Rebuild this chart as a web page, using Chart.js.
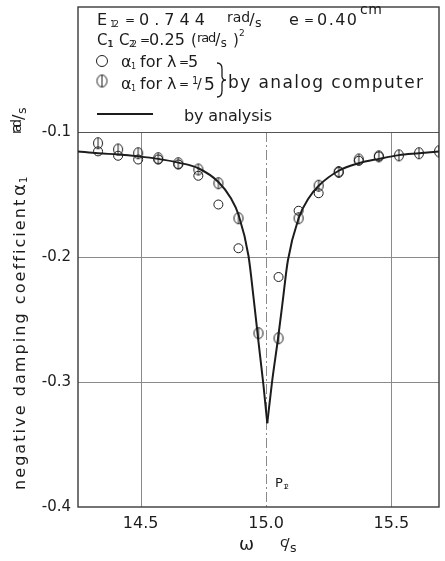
<!DOCTYPE html>
<html>
<head>
<meta charset="utf-8">
<script src="https://cdn.jsdelivr.net/npm/chart.js@4.4.0/dist/chart.umd.min.js"></script>
<style>
  html, body { margin: 0; padding: 0; background: #fff; }
  canvas { display: block; }
</style>
</head>
<body>
<canvas id="damping" width="445" height="561"></canvas>
<script>
const xTicks = [14.5, 15.0, 15.5];
const yTicks = [-0.4, -0.3, -0.2, -0.1];

// analytic solution, split at the cusp (P12) so each side stays monotone
const leftOmega = [14.25, 14.33, 14.41, 14.49, 14.57, 14.65, 14.73, 14.81, 14.86, 14.89, 14.93, 14.95, 14.97, 14.99, 15.005];
const leftAlpha = [-0.1155, -0.117, -0.118, -0.1195, -0.1215, -0.1245, -0.129, -0.140, -0.153, -0.166, -0.199, -0.232, -0.268, -0.303, -0.333];
const rightOmega = [15.005, 15.024, 15.048, 15.065, 15.087, 15.13, 15.17, 15.21, 15.29, 15.37, 15.45, 15.53, 15.61, 15.69];
const rightAlpha = [-0.333, -0.300, -0.265, -0.238, -0.203, -0.169, -0.153, -0.143, -0.131, -0.125, -0.1215, -0.1185, -0.117, -0.1155];

// analog computer, lambda = 5
const omegaLam5 = [14.33, 14.41, 14.49, 14.57, 14.65, 14.73, 14.81, 14.89, 15.05, 15.13, 15.21, 15.29, 15.37, 15.45];
const alphaLam5 = [-0.1155, -0.119, -0.122, -0.122, -0.126, -0.135, -0.158, -0.193, -0.216, -0.163, -0.149, -0.132, -0.123, -0.1195];

// analog computer, lambda = 1/5
const omegaLam15 = [14.33, 14.41, 14.49, 14.57, 14.65, 14.73, 14.81, 14.89, 14.97, 15.05, 15.13, 15.21, 15.29, 15.37, 15.45, 15.53, 15.61, 15.69];
const alphaLam15 = [-0.109, -0.114, -0.117, -0.121, -0.125, -0.130, -0.141, -0.169, -0.261, -0.265, -0.169, -0.143, -0.132, -0.122, -0.1195, -0.1187, -0.117, -0.1155];

const INK = '#1c1c1c';
const GRID = '#8a8a8a';
const FAMILY = '"DejaVu Sans", sans-serif';

const pts = (xs, ys) => xs.map((x, i) => ({ x, y: ys[i] }));

// circle with a vertical stroke through it
function barCircle(rx, ry) {
    const c = document.createElement('canvas');
    c.width = Math.ceil(rx * 2 + 3);
    c.height = Math.ceil(ry * 2 + 3);
    const g = c.getContext('2d');
    const cx = c.width / 2, cy = c.height / 2;
    g.strokeStyle = INK;
    g.lineWidth = 1;
    g.beginPath();
    g.ellipse(cx, cy, rx, ry, 0, 0, Math.PI * 2);
    g.stroke();
    g.beginPath();
    g.moveTo(cx, cy - ry);
    g.lineTo(cx, cy + ry);
    g.stroke();
    return c;
}

// text stretched to a given width with letter spacing
function text(ctx, s, x, y, size, width) {
    ctx.font = size + 'px ' + FAMILY;
    ctx.letterSpacing = '0px';
    if (width) {
        const w = ctx.measureText(s).width;
        ctx.letterSpacing = ((width - w) / Math.max(1, s.length - 1)) + 'px';
    }
    ctx.fillText(s, x, y);
    ctx.letterSpacing = '0px';
}

// "num/den" unit written as a slanted fraction
function perUnit(ctx, num, den, x, y, size, width) {
    ctx.font = size + 'px ' + FAMILY;
    const nw = ctx.measureText(num).width;
    text(ctx, num, x, y - size * 0.25, size, width ? width * 0.58 : 0);
    const nx = x + (width ? width * 0.58 : nw);
    text(ctx, '/', nx - 1, y, size + 2);
    text(ctx, den, nx + size * 0.35, y + size * 0.15, size * 0.9);
}

const paperPlugin = {
    id: 'paper',
    beforeDatasetsDraw(chart) {
        const { ctx, chartArea: a, scales: { x, y } } = chart;
        const yTop = y.getPixelForValue(-0.1);
        ctx.save();
        ctx.lineWidth = 1;
        ctx.strokeStyle = GRID;
        xTicks.forEach(v => {
            const px = Math.round(x.getPixelForValue(v)) + 0.5;
            ctx.setLineDash(v === 15.0 ? [10, 3, 2, 3] : []);
            ctx.beginPath();
            ctx.moveTo(px, yTop);
            ctx.lineTo(px, a.bottom);
            ctx.stroke();
        });
        ctx.setLineDash([]);
        [-0.3, -0.2].forEach(v => {
            const py = Math.round(y.getPixelForValue(v)) + 0.5;
            ctx.beginPath();
            ctx.moveTo(a.left, py);
            ctx.lineTo(a.right, py);
            ctx.stroke();
        });
        // bottom edge of the legend panel
        ctx.strokeStyle = '#555';
        const py = Math.round(yTop) + 0.5;
        ctx.beginPath();
        ctx.moveTo(a.left, py);
        ctx.lineTo(a.right, py);
        ctx.stroke();
        // frame
        ctx.strokeStyle = '#3a3a3a';
        ctx.lineWidth = 1.4;
        ctx.strokeRect(a.left, a.top, a.right - a.left, a.bottom - a.top);
        ctx.restore();
    },
    afterDraw(chart) {
        const { ctx } = chart;
        ctx.save();
        ctx.fillStyle = INK;
        ctx.strokeStyle = INK;
        ctx.textBaseline = 'alphabetic';
        ctx.textAlign = 'left';

        // parameters
        text(ctx, 'E', 97, 25, 16);
        text(ctx, '12', 110, 27, 9, 9);
        text(ctx, '=', 125, 24, 12);
        text(ctx, '0.744', 139, 25, 16, 66);
        perUnit(ctx, 'rad', 's', 227, 25, 14, 40);
        text(ctx, 'e', 289, 25, 16);
        text(ctx, '=', 304, 24, 12);
        text(ctx, '0.40', 317, 25, 16, 40);
        text(ctx, 'cm', 360, 14, 14, 22);

        text(ctx, 'C', 97, 45, 15);
        text(ctx, '11', 108, 47, 9, 5);
        text(ctx, 'C', 119, 45, 15);
        text(ctx, '22', 129, 47, 9, 8);
        text(ctx, '=', 140, 44, 12);
        text(ctx, '0.25', 149, 45, 16, 36);
        text(ctx, '(', 191, 45, 15);
        perUnit(ctx, 'rad', 's', 197, 45, 13, 33);
        text(ctx, ')', 233, 45, 15);
        text(ctx, '2', 239, 36, 9);

        // symbol keys
        ctx.lineWidth = 1;
        ctx.beginPath();
        ctx.arc(102, 61, 5.5, 0, Math.PI * 2);
        ctx.stroke();
        ctx.drawImage(barCircle(5, 6), 102 - 6.5, 81 - 7.5);

        [[67, '5'], [89, null]].forEach(([by, lam]) => {
            text(ctx, 'α', 121, by, 16);
            text(ctx, '1', 131, by + 2, 8);
            text(ctx, 'for', 140, by, 16, 22);
            text(ctx, 'λ', 167, by, 16);
            text(ctx, '=', 179, by - 1, 12);
            if (lam) {
                text(ctx, lam, 188, by, 16);
            } else {
                text(ctx, '1', 192, by - 5, 10);
                text(ctx, '/', 197, by - 1, 14);
                text(ctx, '5', 204, by + 1, 17);
            }
        });

        // brace grouping both analog runs
        ctx.lineWidth = 1.3;
        ctx.beginPath();
        ctx.moveTo(217, 63);
        ctx.quadraticCurveTo(222, 63, 222, 69);
        ctx.lineTo(222, 76);
        ctx.quadraticCurveTo(222, 80, 226, 80);
        ctx.quadraticCurveTo(222, 80, 222, 84);
        ctx.lineTo(222, 91);
        ctx.quadraticCurveTo(222, 97, 217, 97);
        ctx.stroke();
        text(ctx, 'by analog computer', 228, 88, 17, 195);

        ctx.lineWidth = 2;
        ctx.beginPath();
        ctx.moveTo(97, 114);
        ctx.lineTo(153, 114);
        ctx.stroke();
        text(ctx, 'by analysis', 184, 121, 16, 88);

        // cusp label
        text(ctx, 'P', 275, 487, 13);
        text(ctx, '12', 283, 489, 7, 6);

        // x title
        text(ctx, 'ω', 239, 550, 18);
        perUnit(ctx, 'c', 's', 280, 550, 14, 9);

        // y title and unit, rotated
        ctx.save();
        ctx.translate(25, 0);
        ctx.rotate(-Math.PI / 2);
        text(ctx, 'negative damping coefficient', -490, 0, 16, 290);
        text(ctx, 'α', -196, 0, 18);
        text(ctx, '1', -183, 2, 10);
        perUnit(ctx, 'rad', 's', -134, -1, 14, 26);
        ctx.restore();

        ctx.restore();
    }
};

const noPad = s => { s.paddingTop = 0; s.paddingBottom = 0; s.paddingLeft = 0; s.paddingRight = 0; };

new Chart(document.getElementById('damping'), {
    type: 'scatter',
    data: {
        datasets: [
            {
                data: pts(leftOmega, leftAlpha),
                showLine: true,
                borderColor: INK,
                borderWidth: 2,
                pointRadius: 0,
                cubicInterpolationMode: 'monotone'
            },
            {
                data: pts(rightOmega, rightAlpha),
                showLine: true,
                borderColor: INK,
                borderWidth: 2,
                pointRadius: 0,
                cubicInterpolationMode: 'monotone'
            },
            {
                data: pts(omegaLam5, alphaLam5),
                pointStyle: 'circle',
                pointRadius: 4.5,
                borderColor: INK,
                borderWidth: 1,
                backgroundColor: 'rgba(0,0,0,0)'
            },
            {
                data: pts(omegaLam15, alphaLam15),
                pointStyle: barCircle(4.5, 5.5),
                pointRadius: 5
            }
        ]
    },
    options: {
        responsive: false,
        animation: false,
        devicePixelRatio: 1,
        layout: { padding: { top: 7, right: 4, left: 0, bottom: 0 } },
        plugins: { legend: { display: false }, tooltip: { enabled: false } },
        scales: {
            x: {
                type: 'linear',
                min: 14.25,
                max: 15.69,
                grid: { display: false, drawTicks: false, tickLength: 0 },
                border: { display: false },
                afterBuildTicks: s => { s.ticks = xTicks.map(v => ({ value: v })); },
                afterFit: s => { s.height = 54; noPad(s); },
                ticks: {
                    callback: v => v.toFixed(1),
                    font: { family: FAMILY, size: 16 },
                    color: INK,
                    padding: 7,
                    maxRotation: 0
                }
            },
            y: {
                type: 'linear',
                min: -0.4,
                max: 0,
                grid: { display: false, drawTicks: false, tickLength: 0 },
                border: { display: false },
                afterBuildTicks: s => { s.ticks = yTicks.map(v => ({ value: v })); },
                afterFit: s => { s.width = 78; noPad(s); },
                ticks: {
                    callback: v => v.toFixed(1),
                    font: { family: FAMILY, size: 15 },
                    color: INK,
                    padding: 7
                }
            }
        }
    },
    plugins: [paperPlugin]
});
</script>
</body>
</html>
